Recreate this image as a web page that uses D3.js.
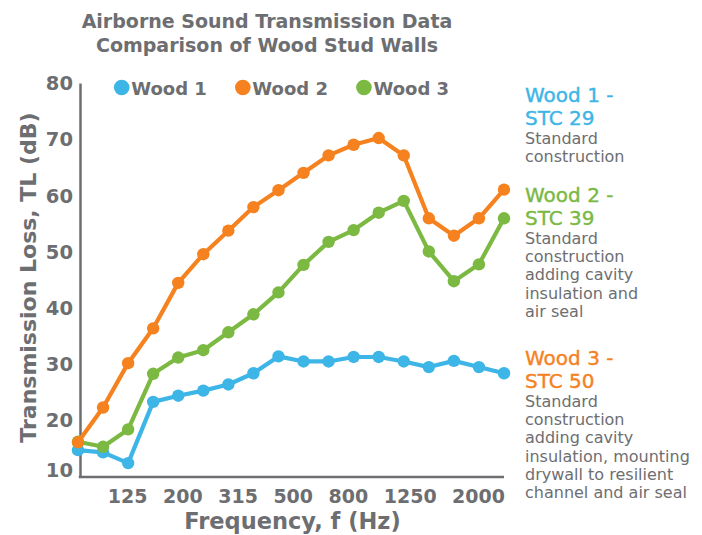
<!DOCTYPE html>
<html>
<head>
<meta charset="utf-8">
<script src="https://cdn.jsdelivr.net/npm/d3@7"></script>
<style>
  body { margin: 0; background: #fff; }
  text { font-family: "DejaVu Sans", sans-serif; fill: #6d6e71; }
</style>
</head>
<body>
<svg id="chart" width="702" height="535"></svg>
<script>
"use strict";

// Data
const freqs = ["80", "100", "125", "160", "200", "250", "315", "400", "500",
  "630", "800", "1000", "1250", "1600", "2000", "2500", "3150", "4000"];
const wood1 = [14.6, 14.2, 12.3, 23.2, 24.3, 25.2, 26.3, 28.3, 31.3,
  30.4, 30.4, 31.2, 31.2, 30.4, 29.4, 30.5, 29.4, 28.3];
const wood2 = [16, 22.2, 30.1, 36.3, 44.4, 49.5, 53.7, 57.9, 60.9,
  64, 67.1, 69, 70.2, 67.1, 55.9, 52.8, 55.9, 61];
const wood3 = [16.1, 15.2, 18.3, 28.2, 31.1, 32.4, 35.6, 38.8, 42.7,
  47.6, 51.7, 53.8, 56.9, 59, 50, 44.7, 47.7, 55.9];
const seriesNames = ["Wood 1", "Wood 2", "Wood 3"];
const seriesColors = ["#3db5e6", "#f5821f", "#7bb942"];
const xTickLabels = ["125", "200", "315", "500", "800", "1250", "2000"];
const yTicks = [10, 20, 30, 40, 50, 60, 70, 80];
const titleLines = ["Airborne Sound Transmission Data", "Comparison of Wood Stud Walls"];
const notes = [
  { head: ["Wood 1 -", "STC 29"], color: "#3db5e6",
    body: ["Standard", "construction"] },
  { head: ["Wood 2 -", "STC 39"], color: "#7bb942",
    body: ["Standard", "construction", "adding cavity", "insulation and", "air seal"] },
  { head: ["Wood 3 -", "STC 50"], color: "#f5821f",
    body: ["Standard", "construction", "adding cavity", "insulation, mounting",
      "drywall to resilient", "channel and air seal"] }
];

var graph = {};
graph.svg = d3.select("#chart");

var xy = {};
xy.x = d3.scalePoint()
  .domain(freqs)
  .range([78, 504]);

xy.y = d3.scaleLinear()
  .domain([10, 80])
  .range([476, 83]);

// Title
graph.svg.append("g")
  .attr("class", "title")
  .selectAll("text")
  .data(titleLines)
  .enter()
  .append("text")
  .attr("x", 267)
  .attr("y", (d, i) => 28 + i * 24)
  .attr("text-anchor", "middle")
  .style("font-weight", "bold")
  .style("font-size", "19px")
  .text(d => d);

// Axes
xy.gY = graph.svg.append("g")
  .attr("class", "axis axis--y")
  .attr("transform", "translate(80,0)")
  .call(d3.axisLeft(xy.y).tickValues(yTicks).tickSize(0).tickSizeOuter(0).tickPadding(7));

xy.gY.select(".domain")
  .attr("stroke", "#6d6e71")
  .attr("stroke-width", 2.5);

xy.gY.selectAll(".tick text")
  .attr("fill", "#6d6e71")
  .style("font-family", "DejaVu Sans")
  .style("font-weight", "bold")
  .style("font-size", "19.5px")
  .attr("dy", d => d === 10 ? "0.05em" : "0.35em");

xy.gX = graph.svg.append("g")
  .attr("class", "axis axis--x")
  .attr("transform", "translate(0,477)")
  .call(d3.axisBottom(xy.x).tickValues([]).tickSizeOuter(0));

xy.gX.select(".domain")
  .attr("d", "M" + (xy.x.range()[0] + 0.75) + ",0H" + xy.x.range()[1])
  .attr("stroke", "#6d6e71")
  .attr("stroke-width", 2.5);

// x labels are set like one line of text with equal gaps, flush right with the axis
var xLab = graph.svg.append("g")
  .attr("class", "x-labels")
  .selectAll("text")
  .data(xTickLabels)
  .enter()
  .append("text")
  .attr("y", 503)
  .style("font-weight", "bold")
  .style("font-size", "19px")
  .text(d => d);

var widths = xLab.nodes().map(n => n.getComputedTextLength());
var gap = 15.5, cursor = xy.x.range()[1] + 1;
var starts = [];
for (let i = widths.length - 1; i >= 0; i--) {
  cursor -= widths[i];
  starts[i] = cursor;
  cursor -= gap;
}
xLab.attr("x", (d, i) => starts[i]);

// Axis titles
graph.svg.append("text")
  .attr("x", 292.5)
  .attr("y", 529)
  .attr("text-anchor", "middle")
  .style("font-weight", "bold")
  .style("font-size", "22.5px")
  .text("Frequency, f (Hz)");

graph.svg.append("text")
  .attr("transform", "translate(36,277.5) rotate(-90)")
  .attr("text-anchor", "middle")
  .style("font-weight", "bold")
  .style("font-size", "22px")
  .text("Transmission Loss, TL (dB)");

// Lines + markers (blue, green, orange on top)
var series = [wood1, wood2, wood3].map((vals, i) => ({
  name: seriesNames[i],
  color: seriesColors[i],
  values: vals
}));
var drawOrder = [series[0], series[2], series[1]];

var line = d3.line()
  .x((d, i) => xy.x(freqs[i]))
  .y(d => xy.y(d));

var sg = graph.svg.append("g")
  .attr("class", "data-group")
  .selectAll("g")
  .data(drawOrder)
  .enter()
  .append("g");

sg.append("path")
  .attr("d", d => line(d.values))
  .attr("fill", "none")
  .attr("stroke", d => d.color)
  .attr("stroke-width", 4.2)
  .attr("stroke-linejoin", "round");

sg.selectAll("circle")
  .data(d => d.values.map((v, i) => ({ f: freqs[i], v: v, color: d.color })))
  .enter()
  .append("circle")
  .attr("cx", d => xy.x(d.f))
  .attr("cy", d => xy.y(d.v))
  .attr("r", 6.2)
  .attr("fill", d => d.color);

// Legend
var lg = graph.svg.append("g").attr("class", "legend");
var lx = 121.7;
series.forEach(function(s) {
  lg.append("circle")
    .attr("cx", lx)
    .attr("cy", 87.5)
    .attr("r", 7.8)
    .attr("fill", s.color);
  var t = lg.append("text")
    .attr("x", lx + 9.5)
    .attr("y", 95)
    .style("font-weight", "bold")
    .style("font-size", "18px")
    .text(s.name);
  lx += 9.5 + t.node().getComputedTextLength() + 36;
});

// Notes on the right
var noteTops = [102, 202, 365];
notes.forEach(function(n, k) {
  var g = graph.svg.append("g")
    .attr("class", "note")
    .attr("transform", "translate(525," + noteTops[k] + ")");
  g.selectAll("text.head")
    .data(n.head)
    .enter()
    .append("text")
    .attr("class", "head")
    .attr("y", (d, i) => i * 23)
    .style("fill", n.color)
    .style("stroke", n.color)
    .style("stroke-width", 0.4)
    .style("font-size", "20px")
    .text(d => d);
  g.selectAll("text.body")
    .data(n.body)
    .enter()
    .append("text")
    .attr("class", "body")
    .attr("y", (d, i) => 42 + i * 18.2)
    .style("font-size", "16px")
    .text(d => d);
});
</script>
</body>
</html>
